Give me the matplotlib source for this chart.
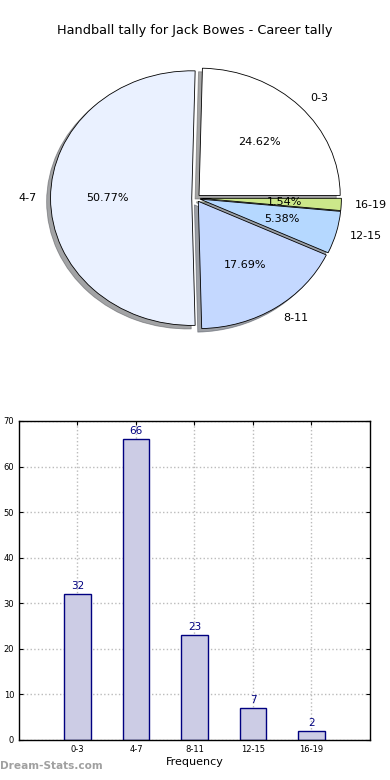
import matplotlib
matplotlib.use('Agg')
import matplotlib.pyplot as plt

# Data
categories = ['0-3', '4-7', '8-11', '12-15', '16-19']
counts = [32, 66, 23, 7, 2]
pie_colors = ['#FFFFFF', '#EAF1FF', '#C4D8FF', '#B5D8FF', '#CCE88A']
title = 'Handball tally for Jack Bowes - Career tally'

fig = plt.figure(figsize=(3.9, 7.8), dpi=100)

# Pie chart (elliptical, like the old matplotlib output)
ax1 = fig.add_axes([0.05, 0.542, 0.905, 0.408])
wedges, texts, autotexts = ax1.pie(
    counts, labels=categories, colors=pie_colors, autopct='%1.2f%%',
    explode=[0.03] * len(counts), shadow=True, startangle=0,
    wedgeprops=dict(edgecolor='black', linewidth=0.6),
    textprops=dict(fontsize=8))
ax1.set_aspect('auto')
ax1.set_xlim(-1.25, 1.25)
ax1.set_ylim(-1.25, 1.25)
fig.text(0.5, 0.961, title, ha='center', va='center', fontsize=9.3)

# Bar chart
ax2 = fig.add_axes([0.0487, 0.0513, 0.9, 0.409])
x = range(len(categories))
bars = ax2.bar(x, counts, width=0.45, color='#CCCCE5', edgecolor='#000080',
               linewidth=1, zorder=2)
for xi, c in zip(x, counts):
    ax2.text(xi, c + 0.6, str(c), ha='center', va='bottom', fontsize=7.5,
             color='#000080', zorder=3)
ax2.set_xlim(-1, 5)
ax2.set_ylim(0, 70)
ax2.set_xticks(list(x))
ax2.set_xticklabels(categories)
ax2.set_yticks(range(0, 71, 10))
ax2.tick_params(labelsize=6, direction='in', top=True, right=True, length=3)
ax2.grid(True, linestyle=':', color='#BBBBBB', linewidth=1, zorder=0)
ax2.set_axisbelow(True)
ax2.set_xlabel('Frequency', fontsize=8, labelpad=2)
for s in ax2.spines.values():
    s.set_linewidth(1)

fig.text(0.0, 0.012, 'Dream-Stats.com', fontsize=7.6, color='#A0A0A0',
         fontweight='bold', ha='left', va='bottom')

fig.savefig('out.png', dpi=100)
